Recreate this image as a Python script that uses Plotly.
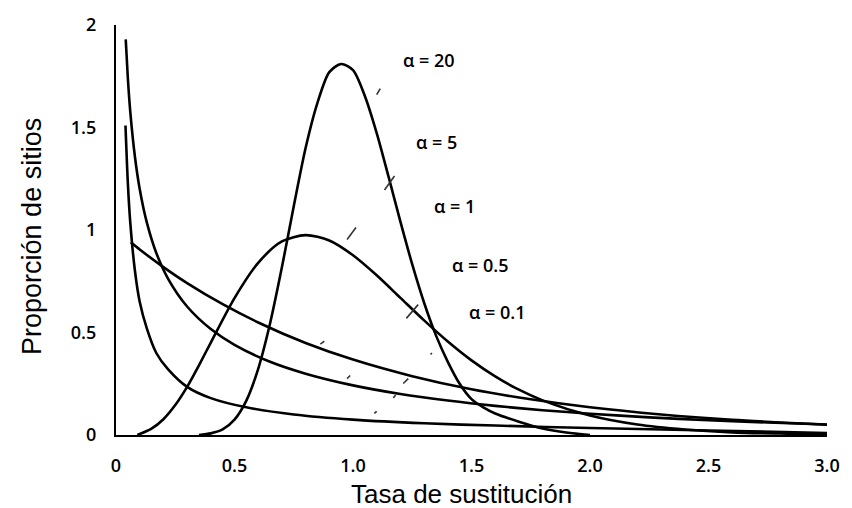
import plotly.graph_objects as go

# ---- data ----
a01_x = [0.04, 0.05, 0.06, 0.08, 0.10, 0.13, 0.17, 0.22, 0.30, 0.40, 0.55, 0.75, 1.0, 1.3, 1.6, 2.0, 2.5, 3.0]
a01_y = [1.51, 1.23, 1.04, 0.80, 0.65, 0.52, 0.40, 0.32, 0.235, 0.18, 0.135, 0.10, 0.075, 0.057, 0.046, 0.034, 0.022, 0.010]

a05_x = [0.041, 0.05, 0.06, 0.08, 0.10, 0.13, 0.17, 0.22, 0.30, 0.40, 0.50, 0.65, 0.80, 1.0, 1.2, 1.4, 1.6, 1.8, 2.0, 2.25, 2.5, 2.75, 3.0]
a05_y = [1.93, 1.74, 1.58, 1.356, 1.20, 1.037, 0.888, 0.762, 0.627, 0.517, 0.440, 0.357, 0.299, 0.242, 0.200, 0.168, 0.142, 0.121, 0.104, 0.086, 0.072, 0.061, 0.051]

a1_x = [0.0625, 0.1, 0.2, 0.3, 0.45, 0.6, 0.8, 1.0, 1.25, 1.5, 1.75, 2.0, 2.3, 2.6, 3.0]
a1_y = [0.94, 0.905, 0.819, 0.741, 0.638, 0.549, 0.449, 0.368, 0.287, 0.223, 0.174, 0.135, 0.100, 0.074, 0.050]

a5_x = [0.09, 0.15, 0.2, 0.25, 0.3, 0.35, 0.4, 0.5, 0.6, 0.7, 0.8, 0.9, 1.0, 1.1, 1.2, 1.3, 1.4, 1.5, 1.6, 1.7, 1.8, 2.0, 2.2, 2.4, 2.6, 2.8, 3.0]
a5_y = [0.0, 0.031, 0.077, 0.146, 0.235, 0.340, 0.451, 0.668, 0.840, 0.944, 0.975, 0.949, 0.877, 0.779, 0.669, 0.559, 0.456, 0.364, 0.286, 0.221, 0.169, 0.095, 0.051, 0.027, 0.013, 0.007, 0.003]

a20_x = [0.35, 0.40, 0.45, 0.50, 0.55, 0.60, 0.65, 0.70, 0.75, 0.80, 0.85, 0.90, 0.95, 1.00, 1.05, 1.10, 1.15, 1.20, 1.25, 1.30, 1.35, 1.40, 1.45, 1.50, 1.55, 1.60, 1.70, 1.80, 1.90, 2.00]
a20_y = [0.0, 0.008, 0.027, 0.075, 0.168, 0.323, 0.544, 0.818, 1.116, 1.40, 1.62, 1.77, 1.81, 1.78, 1.654, 1.473, 1.26, 1.041, 0.832, 0.645, 0.486, 0.357, 0.25, 0.175, 0.135, 0.105, 0.065, 0.032, 0.012, 0.0]

series = [(a01_x, a01_y), (a05_x, a05_y), (a1_x, a1_y), (a5_x, a5_y), (a20_x, a20_y)]

label_texts = ["α = 20", "α = 5", "α = 1", "α = 0.5", "α = 0.1"]
label_x = [1.321, 1.354, 1.429, 1.5375, 1.608]
label_y = [1.83, 1.431, 1.118, 0.829, 0.598]

x_tickvals = [0, 0.5, 1.0, 1.5, 2.0, 2.5, 3.0]
x_ticktext = ["0", "0.5", "1.0", "1.5", "2.0", "2.5", "3.0"]
y_tickvals = [0, 0.5, 1, 1.5, 2]
y_ticktext = ["0", "0.5", "1", "1.5", "2"]

# faint leader marks (x0, y0, x1, y1)
leaders = [
    (1.100, 1.660, 1.115, 1.690),
    (1.133, 1.195, 1.175, 1.263),
    (0.975, 0.954, 1.0125, 1.012),
    (1.225, 0.569, 1.275, 0.636),
    (1.327, 0.393, 1.333, 0.400),
    (1.170, 0.180, 1.180, 0.195),
    (1.212, 0.251, 1.233, 0.275),
    (0.8625, 0.443, 0.879, 0.458),
    (0.975, 0.275, 0.988, 0.290),
    (1.090, 0.105, 1.100, 0.115),
]

fig = go.Figure()
for xs, ys in series:
    fig.add_trace(go.Scatter(x=xs, y=ys, mode="lines",
                             line=dict(color="black", width=2.6, shape="spline", smoothing=0.8),
                             cliponaxis=False, showlegend=False, hoverinfo="skip"))

for x0, y0, x1, y1 in leaders:
    fig.add_shape(type="line", x0=x0, y0=y0, x1=x1, y1=y1, xref="x", yref="y",
                  line=dict(color="#333", width=1.6))

for t, lx, ly in zip(label_texts, label_x, label_y):
    fig.add_annotation(x=lx, y=ly, text=t, showarrow=False, xanchor="center", yanchor="middle",
                       font=dict(family="Open Sans", size=18, color="black", weight=600))

fig.add_annotation(xref="paper", yref="paper", x=0.486, y=-0.143, text="Tasa de sustitución",
                   showarrow=False, xanchor="center", yanchor="middle",
                   font=dict(family="Liberation Sans, Arial", size=26, color="black"))
fig.add_annotation(xref="paper", yref="paper", x=-0.119, y=0.484, text="Proporción de sitios",
                   showarrow=False, xanchor="center", yanchor="middle", textangle=-90,
                   font=dict(family="Liberation Sans, Arial", size=27, color="black"))

tickfont = dict(family="Open Sans", size=18, color="black", weight=600)
fig.update_xaxes(range=[0, 3], showline=True, linecolor="black", linewidth=2.2, showgrid=False,
                 zeroline=False, ticks="", tickvals=x_tickvals, ticktext=x_ticktext,
                 tickfont=tickfont, ticklabelstandoff=13)
fig.update_yaxes(range=[0, 2], showline=True, linecolor="black", linewidth=2.2, showgrid=False,
                 zeroline=False, ticks="", tickvals=y_tickvals, ticktext=y_ticktext,
                 tickfont=tickfont, ticklabelstandoff=14)

fig.update_layout(width=852, height=508, margin=dict(l=116, r=16, t=20, b=73),
                  paper_bgcolor="white", plot_bgcolor="white")

fig.write_html("out.html")
